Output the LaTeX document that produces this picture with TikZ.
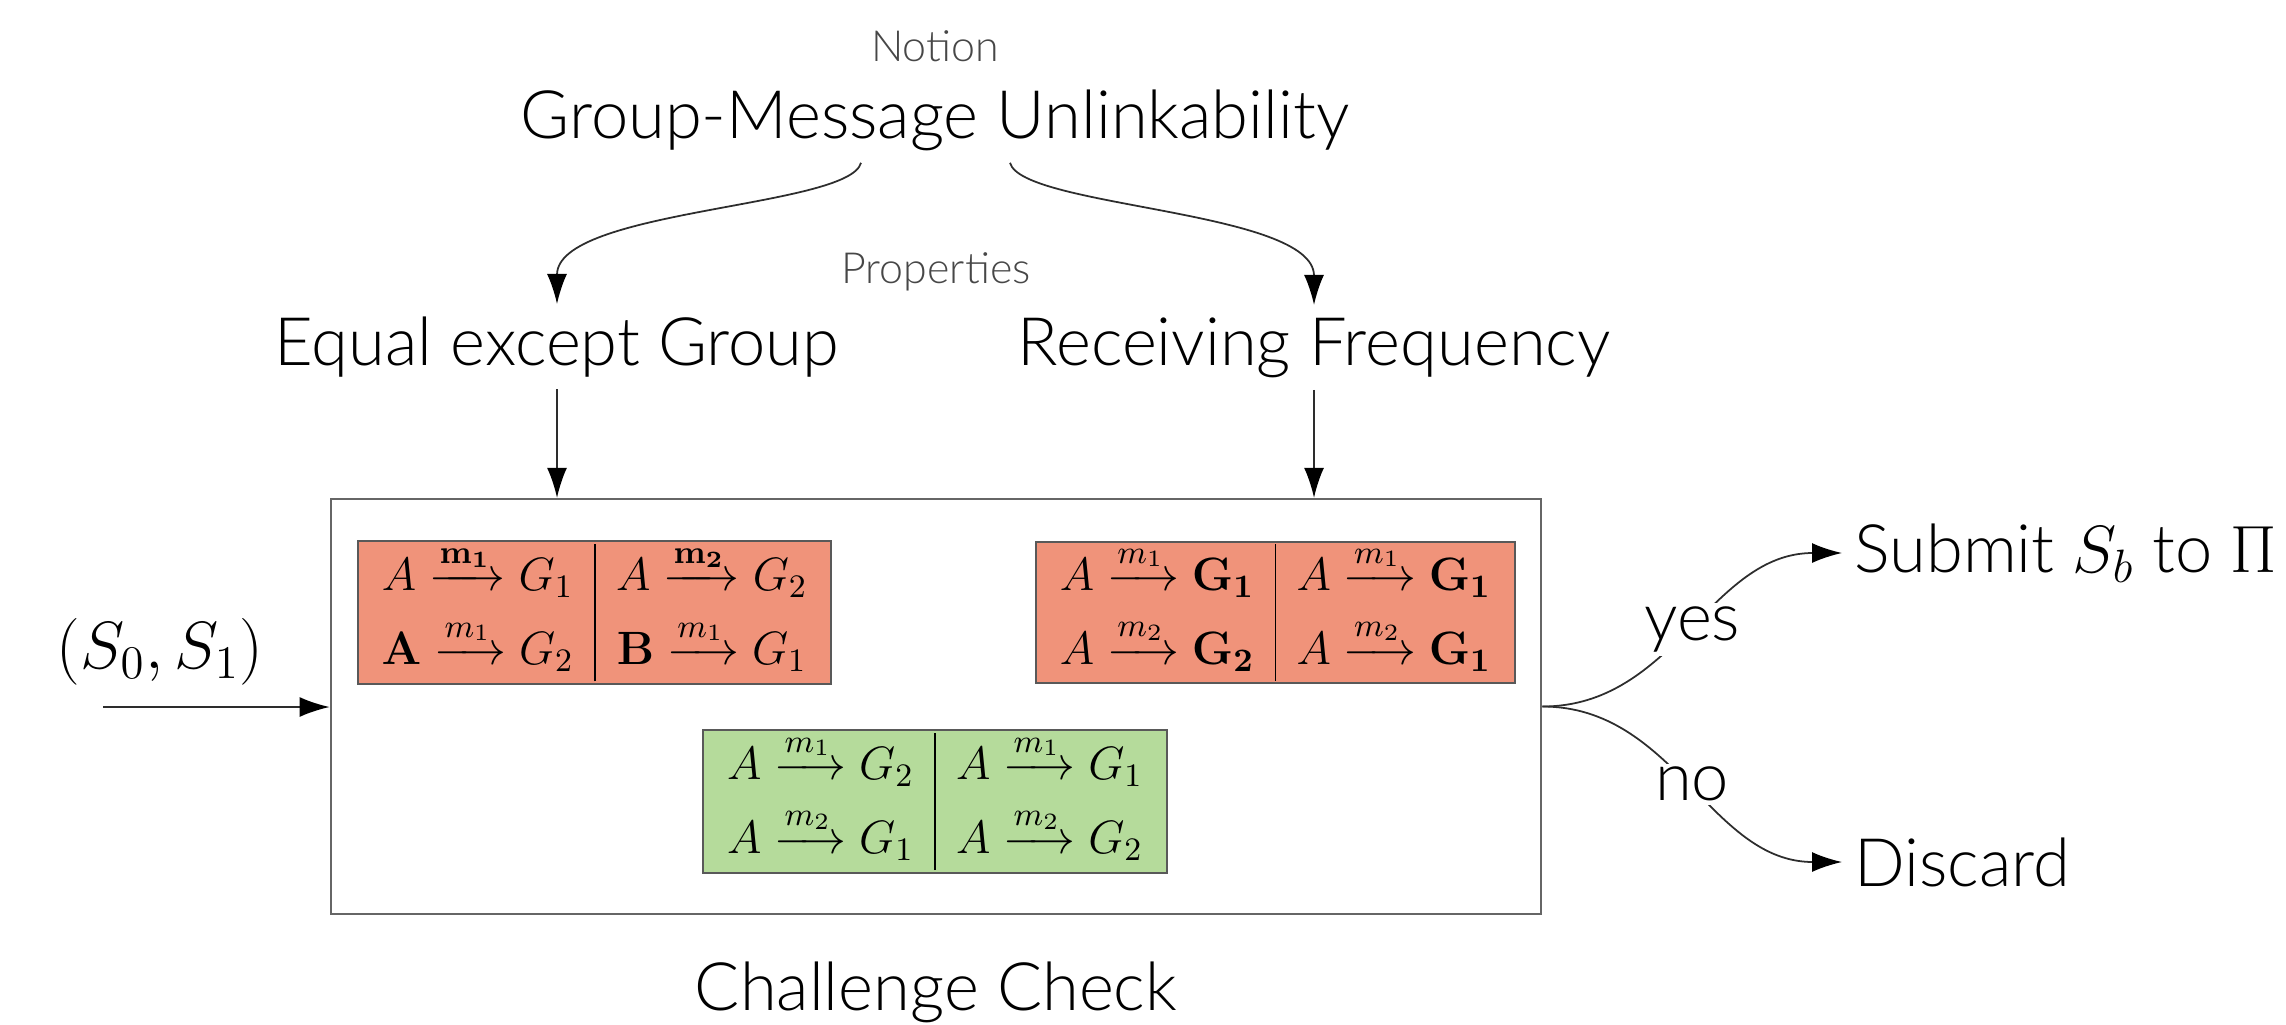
\IfFileExists{fix-cm.sty}{\RequirePackage{fix-cm}}{}
\documentclass[tikz,border=0pt]{standalone}
\usepackage{amsmath}
\usepackage[no-math]{fontspec}
\IfFontExistsTF{Lato Light}{\setmainfont{Lato Light}}{\setmainfont{Lato}}
\usetikzlibrary{arrows.meta,calc}

\definecolor{warnred}{RGB}{240,147,122}
\definecolor{okgreen}{RGB}{181,219,155}
\definecolor{edgegray}{RGB}{45,45,45}

\tikzset{
  bigtxt/.style={font=\fontsize{19}{23}\selectfont},
  smalltxt/.style={font=\fontsize{12.2}{15}\selectfont, text=black!72},
  arr/.style={draw=edgegray, line width=0.5pt,
              -{Latex[length=3mm,width=2mm,color=black]}},
  casebox/.style={draw=black!65, line width=0.6pt, inner sep=0pt,
                  font=\fontsize{13.3}{16}\selectfont},
  pathlabel/.style={bigtxt, fill=white, inner sep=1pt},
}

\newcommand{\snd}[3]{#1 \xrightarrow{#2} #3}

\begin{document}
\begin{tikzpicture}[x=0.01cm, y=0.01cm]
  \useasboundingbox (0,0) rectangle (2286,-1024);
  \arraycolsep=6pt

  % notion and its two properties
  \node[smalltxt, anchor=base] (notion) at (935,-61) {Notion};
  \node[bigtxt, anchor=base] (gmu) at (935,-138) {Group-Message Unlinkability};
  \node[smalltxt, anchor=base] (props) at (936,-283) {Properties};
  \node[bigtxt, anchor=base] (eeg) at (557,-365) {Equal except Group};
  \node[bigtxt, anchor=base] (rf) at (1314,-365) {Receiving Frequency};

  % challenge check box
  \node[draw=black!60, line width=0.6pt, minimum width=12.1cm, minimum height=4.15cm,
        inner sep=0pt] (check) at (936,-706.5) {};
  \node[bigtxt, anchor=base] (checklbl) at (936,-1010) {Challenge Check};

  % rejected challenge pairs
  \node[casebox, fill=warnred, minimum width=4.73cm, minimum height=1.43cm] (caseA)
    at (594.5,-612.5)
    {$\begin{array}{c|c}
       \snd{A}{\mathbf{m_1}}{G_1} & \snd{A}{\mathbf{m_2}}{G_2} \\[3pt]
       \snd{\mathbf{A}}{m_1}{G_2} & \snd{\mathbf{B}}{m_1}{G_1}
     \end{array}$};
  \node[casebox, fill=warnred, minimum width=4.79cm, minimum height=1.41cm] (caseB)
    at (1275.5,-612.5)
    {$\begin{array}{c|c}
       \snd{A}{m_1}{\mathbf{G_1}} & \snd{A}{m_1}{\mathbf{G_1}} \\[3pt]
       \snd{A}{m_2}{\mathbf{G_2}} & \snd{A}{m_2}{\mathbf{G_1}}
     \end{array}$};
  % accepted challenge pair
  \node[casebox, fill=okgreen, minimum width=4.64cm, minimum height=1.43cm] (caseC)
    at (935,-801.5)
    {$\begin{array}{c|c}
       \snd{A}{m_1}{G_2} & \snd{A}{m_1}{G_1} \\[3pt]
       \snd{A}{m_2}{G_1} & \snd{A}{m_2}{G_2}
     \end{array}$};

  % input and outcomes
  \node[bigtxt, anchor=base] (inp) at (160,-668) {$(S_0,S_1)$};
  \coordinate (src) at (103,-707);
  \node[bigtxt, anchor=west] (submit) at (1842,-553) {Submit $S_b$ to $\Pi$};
  \node[bigtxt, anchor=west] (discard) at (1842,-862) {Discard};

  % connectors
  \draw[arr] ($(gmu.south)+(-74,0)$) .. controls +(-12,-45) and +(0,95) .. (eeg.north);
  \draw[arr] ($(gmu.south)+(75,0)$) .. controls +(12,-45) and +(0,95) .. (rf.north);
  \draw[arr] (eeg.south) -- (eeg.south |- check.north);
  \draw[arr] (rf.south) -- (rf.south |- check.north);
  \draw[arr] (src) -- (src -| check.west);
  \draw[arr] (check.east) to[out=0, in=180] node[pathlabel] {yes} (submit.west);
  \draw[arr] (check.east) to[out=0, in=180] node[pathlabel] {no} (discard.west);
\end{tikzpicture}
\end{document}
